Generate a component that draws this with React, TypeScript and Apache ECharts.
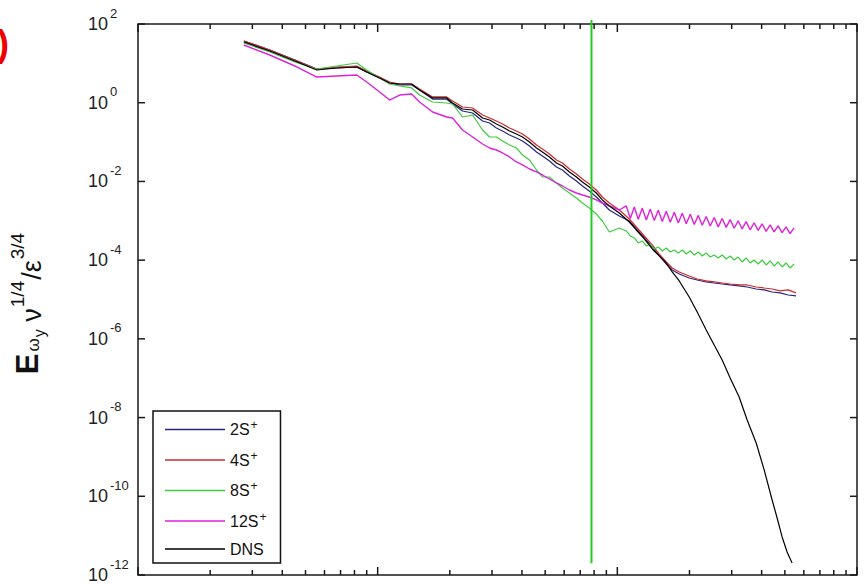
import { useEffect, useRef } from "react";
import * as echarts from "echarts";

const FONT = '"Liberation Sans", Arial, Helvetica, sans-serif';

// shared wavenumbers for the low-k part of every curve
const kHead = [2.765, 3.548, 4.51, 5.57, 6.75, 8.18, 9.0, 10.19, 11.22, 12.35, 13.86, 14.96, 16.95, 19.39, 20.54, 22.6, 24.9, 27.4, 29.3, 31.3, 33.2, 35.5, 37.9, 40.2, 43.0, 46.0, 48.7, 52.1, 55.7, 59.0, 63.1, 67.5, 71.5, 76.4, 81.7, 86.6, 92.6, 101.9];

const dnsHead = [34.9, 20.6, 11.5, 6.78, 7.62, 8.08, 6.03, 4.25, 3.17, 2.99, 2.99, 2.1, 1.32, 1.32, 0.984, 0.692, 0.653, 0.409, 0.364, 0.288, 0.242, 0.191, 0.16, 0.135, 0.1005, 0.0707, 0.056, 0.0418, 0.0294, 0.0247, 0.0174, 0.013, 0.00968, 0.00722, 0.00508, 0.00338, 0.00238, 0.00158];
const s2Head = [37.0, 21.9, 12.2, 7.19, 7.62, 8.08, 6.03, 4.25, 3.17, 2.82, 2.82, 2.1, 1.24, 1.24, 0.928, 0.616, 0.548, 0.343, 0.305, 0.228, 0.191, 0.151, 0.127, 0.1065, 0.0795, 0.056, 0.0443, 0.0331, 0.0233, 0.0195, 0.0137, 0.0103, 0.00766, 0.00572, 0.00402, 0.00283, 0.00188, 0.00132];
const s4Head = [37.0, 21.9, 12.2, 7.19, 8.08, 8.57, 6.4, 4.5, 3.36, 2.99, 2.99, 2.23, 1.4, 1.4, 1.106, 0.778, 0.734, 0.488, 0.409, 0.343, 0.288, 0.228, 0.191, 0.16, 0.1198, 0.0843, 0.0667, 0.0498, 0.0351, 0.0294, 0.0207, 0.01545, 0.01153, 0.00861, 0.00606, 0.00402, 0.00283, 0.00188];
const s8Head = [32.9, 19.45, 10.83, 7.19, 8.57, 10.2, 6.78, 4.25, 2.99, 2.66, 2.37, 1.57, 1.043, 0.984, 0.928, 0.434, 0.488, 0.2027, 0.1346, 0.1346, 0.1065, 0.0843, 0.0707, 0.047, 0.0351, 0.0195, 0.01297, 0.01297, 0.00913, 0.00681, 0.00508, 0.0038, 0.00283, 0.00211, 0.00149, 0.000988, 0.000519, 0.000656];
const s12Head = [29.3, 16.3, 8.57, 4.5, 4.77, 5.06, 3.36, 1.87, 1.172, 1.57, 1.665, 1.043, 0.581, 0.434, 0.409, 0.2027, 0.1346, 0.0894, 0.0707, 0.0629, 0.0528, 0.0418, 0.0312, 0.0262, 0.0207, 0.0174, 0.01458, 0.01153, 0.00913, 0.00766, 0.00606, 0.00508, 0.00452, 0.00402, 0.00338, 0.00283, 0.00238, 0.00188];

// high-k tails
const tailK = [112.2, 120.0, 129.6, 139.9, 149.6, 160.0, 169.4, 181.3, 199.5, 215.4, 234.9, 253.6, 273.8, 295.6, 322.3, 348.1, 379.6, 409.9, 442.5, 477.7, 515.9, 557.0];
const s2Tail = [9.88e-4, 6.19e-4, 3.66e-4, 2.16e-4, 1.28e-4, 7.99e-5, 5.62e-5, 4.45e-5, 3.52e-5, 3.13e-5, 2.79e-5, 2.63e-5, 2.48e-5, 2.34e-5, 2.21e-5, 2.08e-5, 1.85e-5, 1.75e-5, 1.55e-5, 1.47e-5, 1.3e-5, 1.23e-5];
const s4Tail = [1.11e-3, 6.95e-4, 4.11e-4, 2.43e-4, 1.43e-4, 8.98e-5, 6.32e-5, 5.0e-5, 3.96e-5, 3.32e-5, 2.96e-5, 2.79e-5, 2.63e-5, 2.48e-5, 2.34e-5, 2.34e-5, 2.08e-5, 1.96e-5, 1.85e-5, 1.65e-5, 1.75e-5, 1.47e-5];

const dnsTailK = [112.2, 120.0, 129.6, 139.9, 149.6, 160.0, 169.4, 181.3, 199.5, 215.4, 234.9, 253.6, 273.8, 295.6, 322.3, 348.1, 379.6, 409.9, 442.5, 464.2, 487.0, 510.9, 535.9];
const dnsTail = [9.32e-4, 5.84e-4, 3.45e-4, 1.92e-4, 1.28e-4, 8.47e-5, 5.0e-5, 2.96e-5, 1.16e-5, 4.82e-6, 1.68e-6, 7.0e-7, 2.9e-7, 1.01e-7, 3.34e-8, 8.7e-9, 2.26e-9, 4.67e-10, 8.06e-11, 2.81e-11, 9.26e-12, 3.85e-12, 2.02e-12];

// dense grid for the noisy 8S+ and 12S+ tails
const denseK = [109.0, 113.3, 117.7, 122.3, 127.1, 132.1, 137.2, 142.6, 148.2, 154.0, 160.0, 166.3, 172.8, 179.6, 186.6, 193.9, 201.5, 209.4, 217.6, 226.1, 234.9, 244.1, 253.7, 263.6, 273.8, 284.6, 295.7, 307.3, 319.3, 331.7, 344.7, 358.3, 372.2, 386.8, 401.9, 417.6, 434.0, 450.9, 468.5, 486.9, 505.9, 525.7, 546.2];
const s8Tail = [5.51e-4, 4.11e-4, 3.66e-4, 2.73e-4, 3.07e-4, 2.29e-4, 2.57e-4, 1.92e-4, 2.16e-4, 1.71e-4, 2.04e-4, 1.61e-4, 1.81e-4, 1.52e-4, 1.81e-4, 1.43e-4, 1.71e-4, 1.35e-4, 1.61e-4, 1.275e-4, 1.52e-4, 1.2e-4, 1.35e-4, 1.134e-4, 1.35e-4, 1.07e-4, 1.275e-4, 1.01e-4, 1.2e-4, 8.98e-5, 1.134e-4, 8.47e-5, 1.01e-4, 7.99e-5, 1.01e-4, 7.53e-5, 9.52e-5, 7.11e-5, 8.98e-5, 6.7e-5, 8.47e-5, 6.32e-5, 7.99e-5];
const s12Tail = [2.38e-3, 1.15e-3, 2.23e-3, 1.1e-3, 2.1e-3, 1.05e-3, 1.98e-3, 1.01e-3, 1.86e-3, 9.6e-4, 1.75e-3, 9.2e-4, 1.64e-3, 8.8e-4, 1.55e-3, 8.4e-4, 1.46e-3, 8.05e-4, 1.37e-3, 7.7e-4, 1.29e-3, 7.4e-4, 1.21e-3, 7.0e-4, 1.14e-3, 6.8e-4, 1.07e-3, 6.45e-4, 1.0e-3, 6.2e-4, 9.5e-4, 5.9e-4, 8.9e-4, 5.7e-4, 8.4e-4, 5.4e-4, 7.9e-4, 5.2e-4, 7.4e-4, 5.0e-4, 7.0e-4, 4.7e-4, 6.6e-4];

// vertical cut-off marker
const cutoffK = 78;
const cutoffSpan = [126, 2.0e-12];

const seriesNames = ["2S+", "4S+", "8S+", "12S+", "DNS"];
const seriesColors = ["#26267e", "#cc2b2b", "#3fcc3f", "#dd22dd", "#000000"];

// axis ticks
const xMajor = [1, 10, 100, 1000];
const xMinor = [2, 3, 4, 5, 6, 7, 8, 9, 20, 30, 40, 50, 60, 70, 80, 90, 200, 300, 400, 500, 600, 700, 800, 900];
const yTicks = [1e2, 1e0, 1e-2, 1e-4, 1e-6, 1e-8, 1e-10, 1e-12];
const yTickExp = ["2", "0", "-2", "-4", "-6", "-8", "-10", "-12"];

const zip = (xs: number[], ys: number[]) => xs.map((x, i) => [x, ys[i]]);

export default function App() {
  const ref = useRef<HTMLDivElement>(null);

  useEffect(() => {
    const chart = echarts.init(ref.current!, null, { renderer: "svg" });
    const curves = [
      zip(kHead, s2Head).concat(zip(tailK, s2Tail)),
      zip(kHead, s4Head).concat(zip(tailK, s4Tail)),
      zip(kHead, s8Head).concat(zip(denseK, s8Tail)),
      zip(kHead, s12Head).concat(zip(denseK, s12Tail)),
      zip(kHead, dnsHead).concat(zip(dnsTailK, dnsTail)),
    ];
    const hidden = {
      axisLine: { show: false },
      axisTick: { show: false },
      axisLabel: { show: false },
      splitLine: { show: false },
    };
    const option: any = {
      animation: false,
      backgroundColor: "#ffffff",
      grid: {
        left: 138, right: 8, top: 24, bottom: 9,
        show: true, borderColor: "#1a1a1a", borderWidth: 1.5,
        backgroundColor: "transparent",
        outerBoundsMode: "none",
      },
      xAxis: { type: "log", logBase: 10, min: 1, max: 1000, ...hidden },
      yAxis: { type: "log", logBase: 10, min: 1e-12, max: 1e2, ...hidden },
      legend: {
        data: seriesNames.map((n) => ({ name: n, icon: "rect" })),
        orient: "vertical",
        left: 153,
        top: 411,
        padding: [8, 14, 6, 12],
        itemGap: 12,
        itemWidth: 60,
        itemHeight: 1.6,
        selectedMode: false,
        backgroundColor: "#ffffff",
        borderColor: "#111111",
        borderWidth: 1.5,
        formatter: (name: string) =>
          name.endsWith("+") ? `{t|${name.slice(0, -1)}}{p|+}` : `{t|${name}}`,
        textStyle: {
          color: "#111111",
          fontFamily: FONT,
          fontSize: 16,
          rich: {
            t: { fontSize: 16, fontFamily: FONT, color: "#111111" },
            p: { fontSize: 12, fontFamily: FONT, color: "#111111", padding: [0, 0, 9, 1] },
          },
        },
      },
      series: [
        ...curves.map((d, i) => ({
          name: seriesNames[i],
          type: "line",
          data: d,
          symbol: "none",
          showSymbol: false,
          color: seriesColors[i],
          itemStyle: { color: seriesColors[i] },
          lineStyle: { color: seriesColors[i], width: i === 3 ? 1.4 : 1.2 },
          z: 2 + i,
        })),
        {
          name: "cutoff",
          type: "line",
          data: [[cutoffK, cutoffSpan[0]], [cutoffK, cutoffSpan[1]]],
          symbol: "none",
          clip: false,
          lineStyle: { color: "#22cc22", width: 2 },
          z: 10,
        },
      ],
    };
    chart.setOption(option);

    const P = (x: number, y: number) =>
      chart.convertToPixel({ xAxisIndex: 0, yAxisIndex: 0 }, [x, y]) as number[];
    const [x0, yBot] = P(1, 1e-12);
    const [x1, yTop] = P(1000, 1e2);
    const tickStyle = { stroke: "#1a1a1a", lineWidth: 1.5 };
    const els: any[] = [];
    const xTick = (k: number, len: number) => {
      const x = P(k, 1)[0];
      els.push({ type: "line", shape: { x1: x, y1: yBot, x2: x, y2: yBot - len }, style: tickStyle, silent: true });
      els.push({ type: "line", shape: { x1: x, y1: yTop, x2: x, y2: yTop + len }, style: tickStyle, silent: true });
    };
    xMajor.forEach((k) => xTick(k, 8));
    xMinor.forEach((k) => xTick(k, 5));
    yTicks.forEach((v, i) => {
      const y = P(1, v)[1];
      els.push({ type: "line", shape: { x1: x0, y1: y, x2: x0 + 7, y2: y }, style: tickStyle, silent: true });
      els.push({ type: "line", shape: { x1: x1, y1: y, x2: x1 - 7, y2: y }, style: tickStyle, silent: true });
      els.push({
        type: "text",
        x: x0 - 50,
        y,
        silent: true,
        style: {
          text: `{b|10}{s|${yTickExp[i]}}`,
          align: "left",
          verticalAlign: "middle",
          rich: {
            b: { fontSize: 18, fontFamily: FONT, fill: "#222222" },
            s: { fontSize: 13, fontFamily: FONT, fill: "#222222", padding: [0, 0, 22, 2] },
          },
        },
      });
    });
    // rotated axis title
    els.push({
      type: "text",
      x: 32,
      y: 303,
      rotation: Math.PI / 2,
      silent: true,
      style: {
        text: "{E|E}{w|ω}{y|y}{m| ν}{s|1/4}{m|/ε}{s|3/4}",
        align: "center",
        verticalAlign: "middle",
        rich: {
          E: { fontSize: 31, fontWeight: "bold", fontFamily: FONT, fill: "#111111", padding: [0, 0, 10, 0] },
          w: { fontSize: 17, fontFamily: FONT, fill: "#111111", padding: [2, 1, 0, 2] },
          y: { fontSize: 16, fontFamily: FONT, fill: "#111111", padding: [15, 0, 0, 0] },
          m: { fontSize: 27, fontFamily: FONT, fill: "#111111" },
          s: { fontSize: 19, fontFamily: FONT, fill: "#111111", padding: [0, 1, 30, 1] },
        },
      },
    });
    // partially visible panel letter
    els.push({
      type: "text",
      x: 9,
      y: 43,
      silent: true,
      style: {
        text: "b)",
        align: "right",
        verticalAlign: "middle",
        fontSize: 36,
        fontWeight: "bold",
        fontFamily: FONT,
        fill: "#ee0000",
      },
    });
    chart.setOption({ graphic: els });

    return () => chart.dispose();
  }, []);

  return (
    <div
      ref={ref}
      style={{ position: "fixed", left: 0, top: 0, width: 865, height: 584, background: "#fff" }}
    />
  );
}
